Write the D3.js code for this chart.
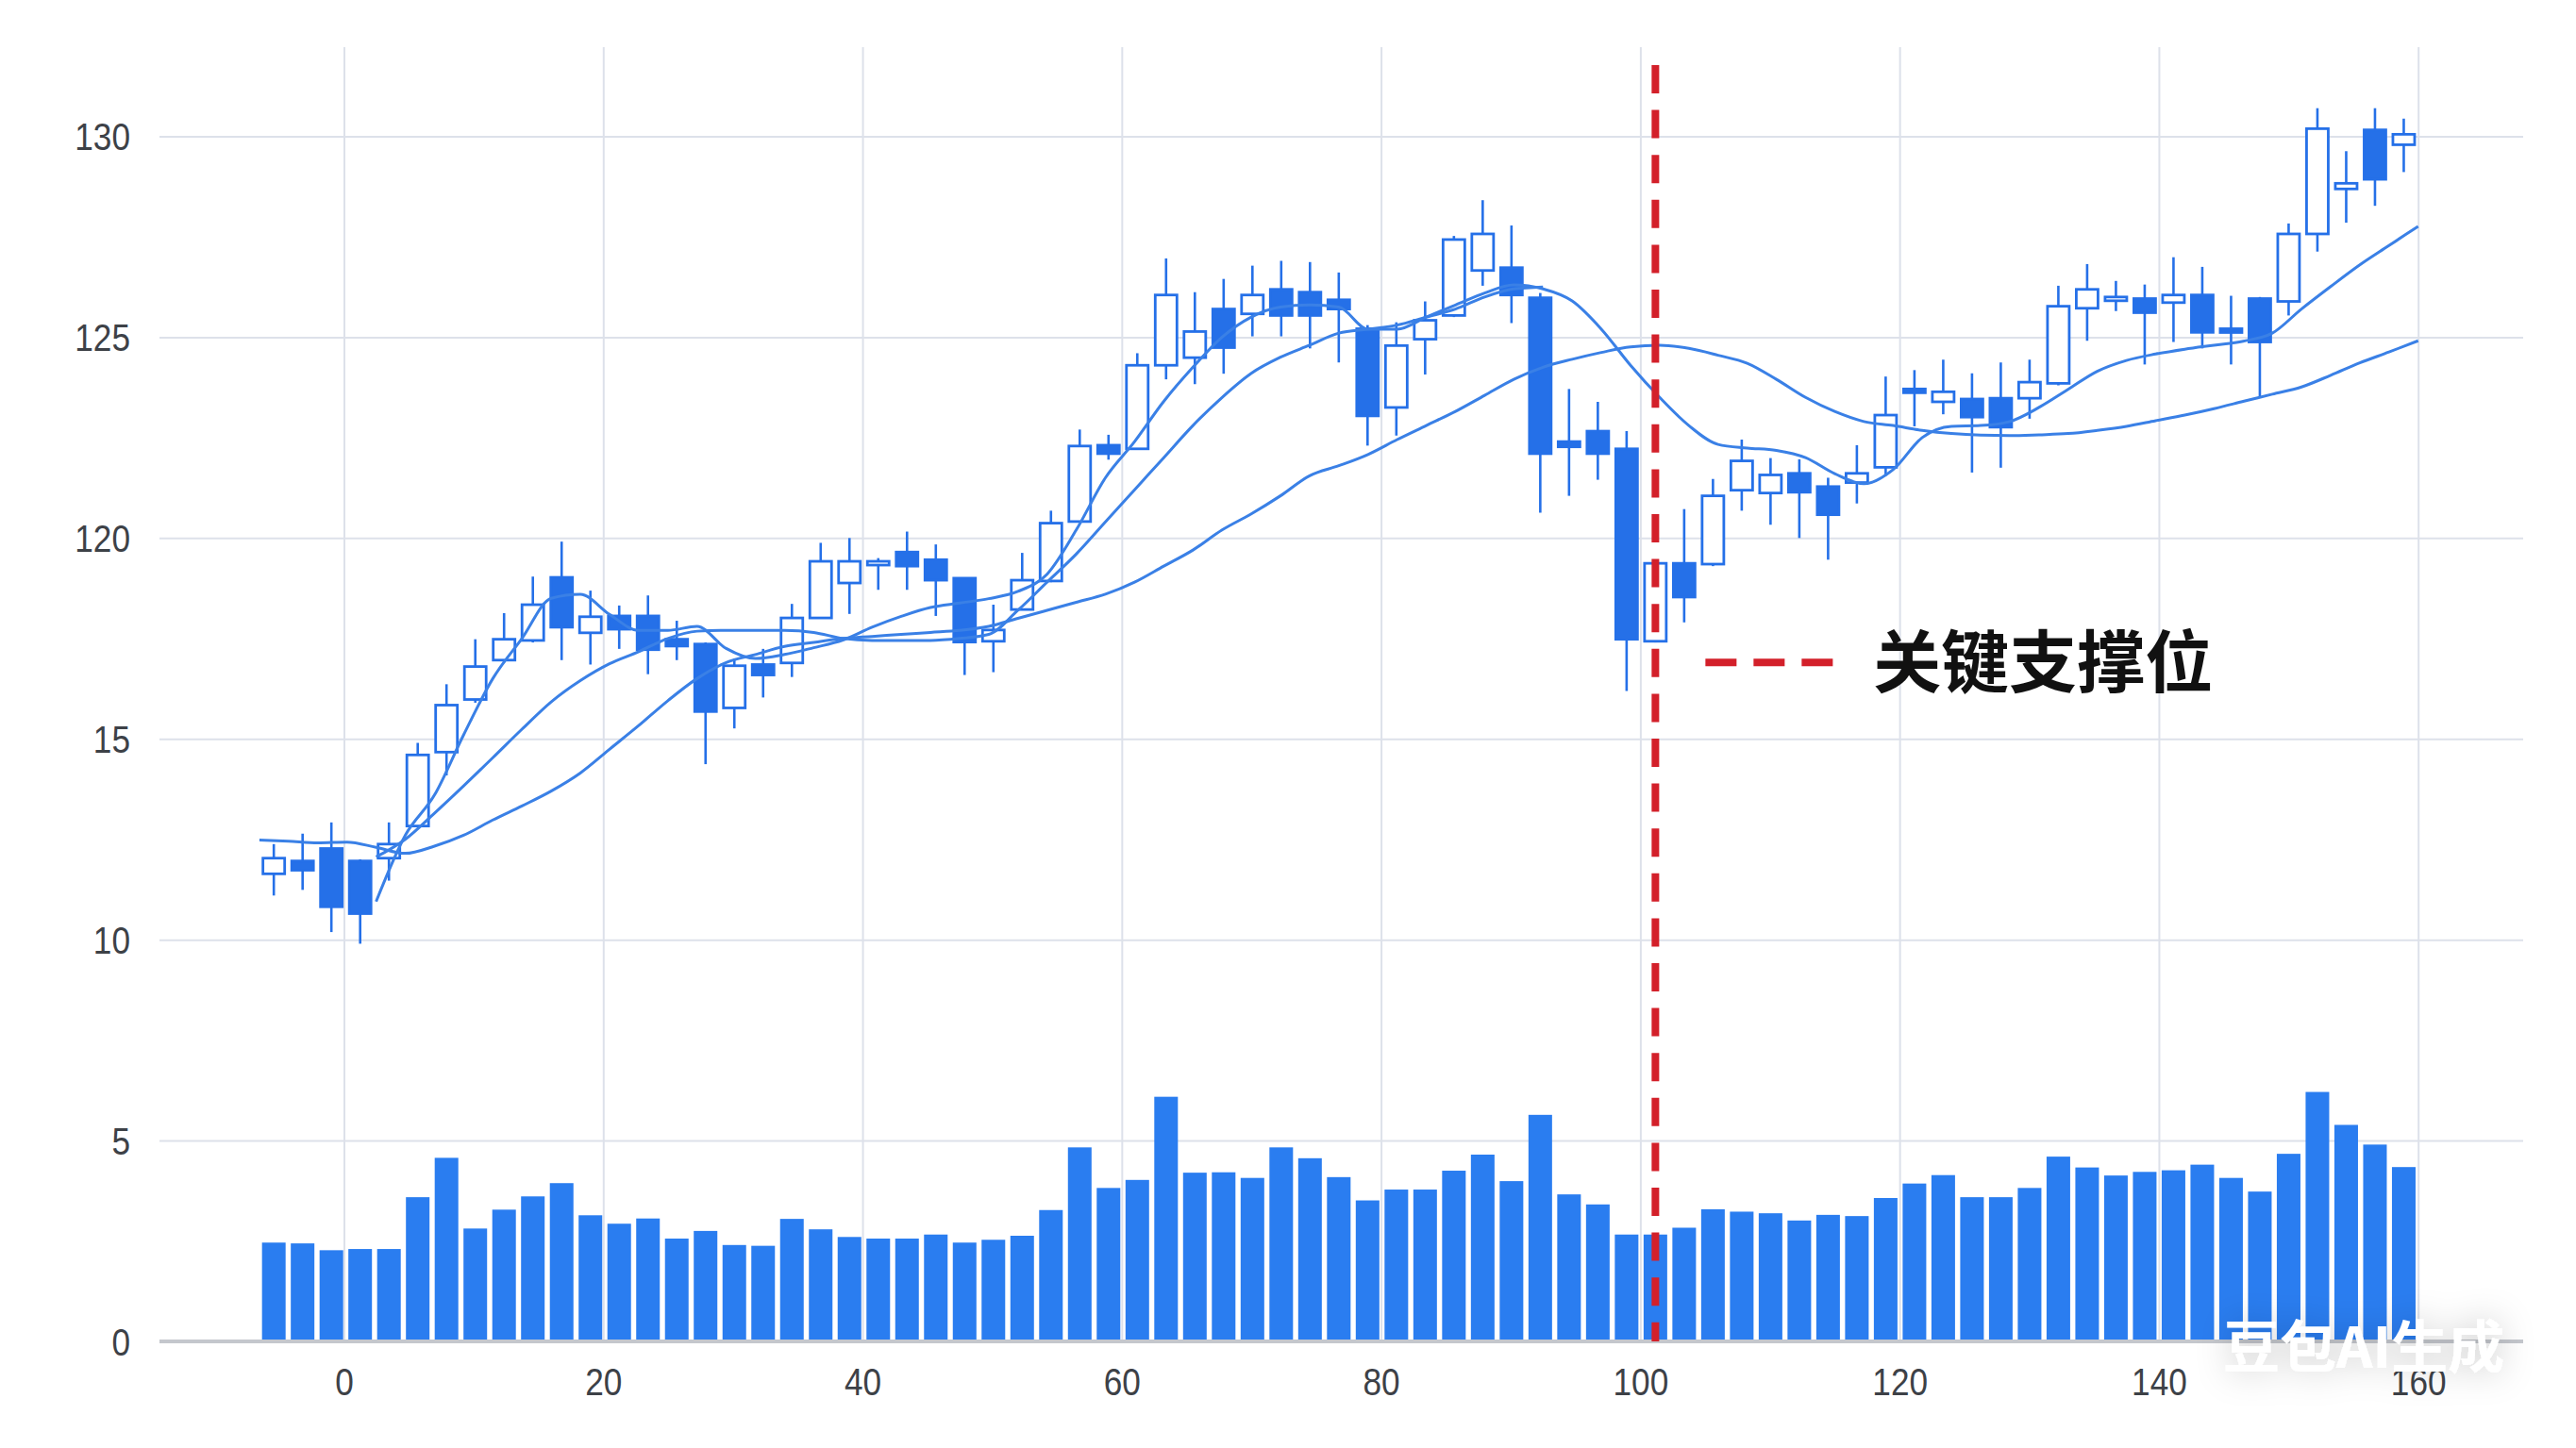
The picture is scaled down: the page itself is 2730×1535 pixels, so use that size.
<!DOCTYPE html>
<html><head><meta charset="utf-8">
<script src="https://cdn.jsdelivr.net/npm/d3@7"></script>
<style>html,body{margin:0;padding:0;background:#fff;}svg{display:block;}</style>
</head><body>
<svg id="c" width="2730" height="1535"></svg>
<script>
// ---------------- DATA ----------------
const openP  = [111.64,111.96,112.27,111.96,112.03,112.83,114.67,115.98,116.96,117.45,119.02,117.64,118.06,118.06,117.48,117.36,115.77,116.85,116.89,118.01,118.88,119.37,119.65,119.46,119.0,117.43,118.22,118.93,120.41,122.31,122.22,124.3,124.49,125.7,125.58,126.19,126.12,125.93,125.21,123.25,124.95,125.54,126.66,126.73,125.98,122.4,122.66,122.22,117.43,119.37,119.35,121.19,121.12,121.61,121.28,121.38,121.76,123.71,123.39,123.46,123.48,123.48,123.85,125.72,125.96,125.96,125.86,126.05,125.21,125.96,125.89,127.57,128.69,130.16,129.79];
const highP  = [112.38,112.64,112.92,112.0,112.92,114.9,116.36,117.48,118.13,119.04,119.91,118.69,118.32,118.57,117.94,117.4,117.0,117.24,118.36,119.88,120.0,119.5,120.16,119.84,119.0,118.34,119.63,120.68,122.7,122.57,124.6,126.96,126.12,126.45,126.78,126.9,126.87,126.61,125.3,125.37,125.89,127.52,128.41,127.78,126.1,123.71,123.39,122.66,119.4,120.72,121.47,122.45,121.99,121.96,121.5,122.31,124.02,124.18,124.44,124.1,124.37,124.44,126.28,126.82,126.4,126.31,126.99,126.75,126.03,126.0,127.83,130.7,129.63,130.7,130.44];
const lowP   = [111.1,111.24,110.19,109.9,111.47,112.8,114.09,115.9,116.9,117.4,116.96,116.85,117.24,116.61,116.96,114.37,115.26,116.03,116.54,118.0,118.11,118.71,118.71,118.06,116.59,116.66,118.2,118.9,120.4,121.95,122.2,123.95,123.83,124.09,125.02,125.02,124.72,124.37,122.3,122.55,124.07,125.5,126.28,125.35,120.63,121.05,121.45,116.19,117.4,117.9,119.3,120.68,120.33,120.0,119.46,120.86,121.55,122.78,123.08,121.63,121.75,122.97,123.8,124.91,125.65,124.32,124.88,124.72,124.32,123.5,125.54,127.13,127.85,128.27,129.11];
const closeP = [112.03,111.73,110.82,110.65,112.38,114.6,115.84,116.8,117.48,118.34,117.78,118.04,117.73,117.22,117.31,115.68,116.82,116.59,118.01,119.42,119.42,119.42,119.3,118.95,117.41,117.71,118.95,120.37,122.29,122.1,124.3,126.05,125.14,124.74,126.05,125.54,125.54,125.7,123.04,124.79,125.42,127.43,127.57,126.05,122.1,122.27,122.1,117.48,119.37,118.53,121.05,121.92,121.57,121.14,120.58,121.61,123.06,123.64,123.64,123.01,122.76,123.88,125.77,126.19,126.0,125.61,126.05,125.12,125.14,124.88,127.57,130.19,128.83,128.93,130.05];
const volume = [2.46,2.44,2.27,2.30,2.30,3.59,4.57,2.81,3.28,3.61,3.94,3.14,2.93,3.06,2.56,2.75,2.40,2.38,3.05,2.79,2.60,2.56,2.56,2.66,2.46,2.53,2.63,3.27,4.83,3.82,4.02,6.09,4.20,4.21,4.07,4.83,4.56,4.09,3.51,3.78,3.78,4.25,4.65,3.99,5.64,3.66,3.41,2.66,2.66,2.83,3.29,3.23,3.19,3.01,3.15,3.12,3.57,3.93,4.14,3.59,3.59,3.82,4.60,4.33,4.13,4.22,4.26,4.40,4.07,3.73,4.67,6.21,5.39,4.90,4.34];
const maFast = [null,null,null,null,110.95,112.6,113.6,115.1,116.5,117.5,118.5,118.6,118.1,117.7,117.7,117.8,117.25,117.0,117.1,117.27,117.46,117.78,118.05,118.27,118.38,118.49,118.67,119.1,120.2,121.5,122.4,123.4,124.25,125.0,125.5,125.75,125.8,125.75,125.2,125.2,125.5,125.8,126.1,126.3,126.2,125.9,125.2,124.3,123.5,122.8,122.33,122.24,122.18,122.0,121.6,121.35,121.7,122.5,122.78,122.8,122.9,123.25,123.7,124.15,124.42,124.58,124.7,124.8,124.9,125.1,125.7,126.26,126.8,127.28,127.76];
const maMid  = [null,null,null,null,112.06,112.5,113.15,113.83,114.53,115.24,115.92,116.45,116.87,117.17,117.5,117.68,117.7,117.7,117.7,117.65,117.5,117.45,117.45,117.45,117.5,117.6,118.2,118.9,119.6,120.4,121.2,122.0,122.8,123.5,124.1,124.5,124.8,125.1,125.2,125.3,125.5,125.7,126.0,126.2,126.25,null,null,null,null,null,null,null,null,null,null,null,null,null,null,null,null,null,null,null,null,null,null,null,null,null,null,null,null,null,null];
const maSlow = [112.48,112.45,112.41,112.43,112.3,112.15,112.33,112.6,112.98,113.33,113.7,114.15,114.74,115.33,115.95,116.5,116.9,117.1,117.3,117.4,117.5,117.55,117.6,117.65,117.7,117.8,118.0,118.2,118.4,118.6,118.9,119.3,119.7,120.2,120.6,121.05,121.55,121.8,122.08,122.45,122.8,123.15,123.55,123.95,124.25,124.45,124.62,124.76,124.8,124.72,124.55,124.35,123.95,123.5,123.15,122.9,122.8,122.68,122.6,122.56,122.55,122.57,122.6,122.68,122.78,122.92,123.06,123.22,123.4,123.58,123.76,124.05,124.36,124.63,124.91];
const yTickValues = [0,5,10,15,20,25,30];
const yTickLabels = ["0","5","10","15","120","125","130"];
const xTickValues = [0,20,40,60,80,100,120,140,160];
const supportIndex = 48;
const supportLabel = "关键支撑位";
const watermark = "豆包AI生成";

// ---------------- LAYOUT ----------------
const plot = {left:169, right:2674, top:50, bottom:1422, yTop:144.5};
const BLUE = "#2570e8", BAR = "#2a7df0", LINE = "#3a80e6", GRID = "#dde1ea";

const svg = d3.select("#c");
const x = d3.scaleLinear().domain([-14.23,168.1]).range([plot.left, plot.right]);
const band = d3.scaleBand().domain(d3.range(openP.length))
  .range([x(-6.52), x(160)]).paddingInner(0.18).paddingOuter(0.09);
const maX = d3.scaleLinear().domain([0, openP.length-1]).range(band.range());
const yPos = d3.scaleLinear().domain([0,30]).range([plot.bottom, plot.yTop]);
const yPrice = d3.scaleLinear().domain([100,130]).range([plot.bottom, plot.yTop]);
const cx = i => band(i) + band.bandwidth()/2;

// grid: vertical
svg.append("g").attr("transform",`translate(0,${plot.bottom})`)
  .call(d3.axisBottom(x).tickValues(xTickValues).tickSize(-(plot.bottom-plot.top)).tickFormat(""))
  .call(g=>g.select(".domain").remove())
  .call(g=>g.selectAll("line").attr("stroke",GRID).attr("stroke-width",2));
// grid: horizontal
svg.append("g").attr("transform",`translate(${plot.left},0)`)
  .call(d3.axisLeft(yPos).tickValues(yTickValues.filter(v=>v>0)).tickSize(-(plot.right-plot.left)).tickFormat(""))
  .call(g=>g.select(".domain").remove())
  .call(g=>g.selectAll("line").attr("stroke",GRID).attr("stroke-width",2));

// volume bars
svg.append("g").selectAll("rect").data(volume).join("rect")
  .attr("x",(d,i)=>band(i)).attr("width",band.bandwidth())
  .attr("y",d=>yPos(d)).attr("height",d=>yPos(0)-yPos(d))
  .attr("fill",BAR);

// base axis line
svg.append("line").attr("x1",plot.left).attr("x2",plot.right)
  .attr("y1",yPos(0)).attr("y2",yPos(0)).attr("stroke","#c4c7cd").attr("stroke-width",4);

// y labels
svg.append("g").attr("transform",`translate(138,0)`)
  .call(d3.axisLeft(yPos).tickValues(yTickValues).tickSize(0).tickPadding(0).tickFormat((d,i)=>yTickLabels[i]))
  .call(g=>g.select(".domain").remove())
  .call(g=>g.selectAll("text").attr("x",0).attr("dy","0.36em").attr("transform","scale(0.88,1)")
        .attr("font-family","'Liberation Sans',Arial,sans-serif").attr("font-size",40).attr("fill","#3d4147"));
// x labels
svg.append("g").attr("transform",`translate(0,${plot.bottom})`)
  .call(d3.axisBottom(x).tickValues(xTickValues).tickSize(0).tickPadding(0).tickFormat(d3.format("d")))
  .call(g=>g.select(".domain").remove())
  .call(g=>g.selectAll(".tick").each(function(){
     const t=d3.select(this).select("text");
     t.attr("y",57).attr("dy",0).attr("transform","scale(0.88,1)")
      .attr("font-family","'Liberation Sans',Arial,sans-serif").attr("font-size",40).attr("fill","#3d4147");
  }));

// candles
const cg = svg.append("g");
openP.forEach((o,i)=>{
  const c = closeP[i], up = c >= o;
  const g = cg.append("g");
  g.append("line").attr("x1",cx(i)).attr("x2",cx(i))
    .attr("y1",yPrice(highP[i])).attr("y2",yPrice(lowP[i]))
    .attr("stroke",BLUE).attr("stroke-width",2.6);
  const top = yPrice(Math.max(o,c)), bot = yPrice(Math.min(o,c));
  const w = band.bandwidth()*0.92;
  g.append("rect").attr("x",cx(i)-w/2).attr("width",w)
    .attr("y",top).attr("height",Math.max(bot-top,4))
    .attr("fill",up?"#fff":BLUE).attr("stroke",BLUE).attr("stroke-width",2.8);
});

// moving averages
const line = d3.line().defined(d=>d.v!=null).x(d=>maX(d.i)).y(d=>yPrice(d.v)).curve(d3.curveMonotoneX);
[maSlow, maMid, maFast].forEach(arr=>{
  svg.append("path").datum(arr.map((v,i)=>({i,v})))
    .attr("d",line).attr("fill","none").attr("stroke",LINE).attr("stroke-width",3);
});

// support line
const sx = cx(supportIndex);
svg.append("line").attr("x1",sx).attr("x2",sx).attr("y1",69).attr("y2",plot.bottom)
  .attr("stroke","#d3202a").attr("stroke-width",8).attr("stroke-dasharray","30,17.6");
const ly = yPrice(116.9);
svg.append("line").attr("x1",sx+53).attr("x2",sx+188).attr("y1",ly).attr("y2",ly)
  .attr("stroke","#d3202a").attr("stroke-width",8).attr("stroke-dasharray","33,18");
svg.append("text").attr("x",sx+231).attr("y",ly).attr("dy","0.36em")
  .attr("font-family","'Noto Sans CJK SC',sans-serif").attr("font-weight",700)
  .attr("font-size",72).attr("fill","#111").text(supportLabel);

// watermark
const defs = svg.append("defs");
const f = defs.append("filter").attr("id","glow").attr("x","-30%").attr("y","-80%").attr("width","160%").attr("height","260%");
f.append("feGaussianBlur").attr("in","SourceAlpha").attr("stdDeviation",18).attr("result","b");
f.append("feFlood").attr("flood-color","#000").attr("flood-opacity",0.22).attr("result","c");
f.append("feComposite").attr("in","c").attr("in2","b").attr("operator","in").attr("result","s");
const m = f.append("feMerge"); m.append("feMergeNode").attr("in","s"); m.append("feMergeNode").attr("in","SourceGraphic");
svg.append("text").attr("x",2356).attr("y",1428).attr("dy","0.36em")
  .attr("font-family","'Noto Sans CJK SC',sans-serif").attr("font-weight",700)
  .attr("font-size",60).attr("fill","#fff").attr("filter","url(#glow)").text(watermark);
</script>
</body></html>
